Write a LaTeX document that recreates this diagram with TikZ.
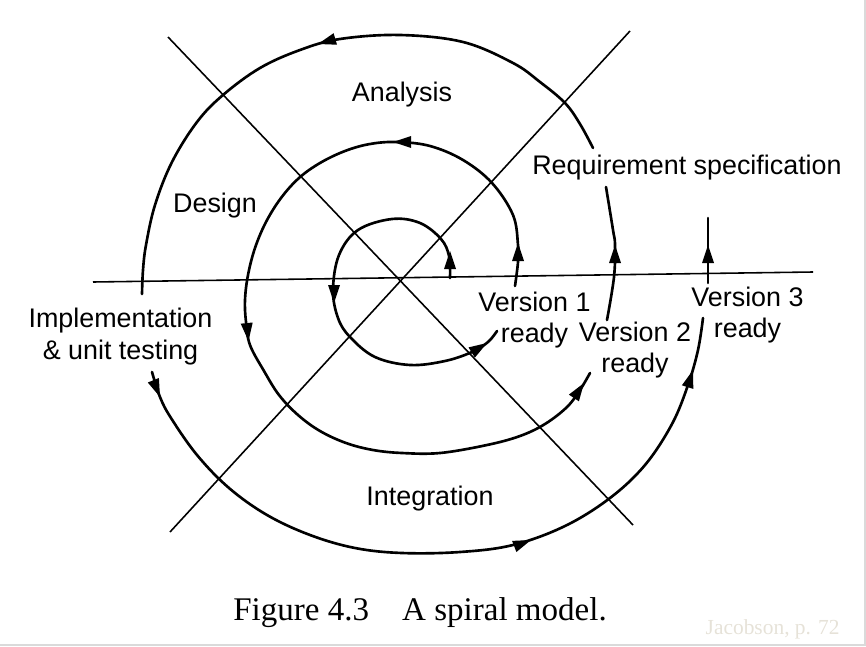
\documentclass[tikz,border=0pt]{standalone}
\usepackage{fontspec}
\setmainfont{Liberation Serif}
\setsansfont{Liberation Sans}
\usepackage{tikz}
\definecolor{stampgray}{RGB}{230,226,216}
\definecolor{framegray}{RGB}{218,218,218}

\begin{document}
\begin{tikzpicture}[scale=0.2]
\tikzstyle{every node}+=[inner sep=0pt]
\tikzstyle{phase}=[font=\sffamily\fontsize{15.3}{18}\selectfont, align=center]
\tikzstyle{spiral}=[black, line width=1.5pt, line cap=round]
\tikzstyle{splitline}=[black, line width=0.9pt]
\useasboundingbox (0,0) rectangle (86.6,-64.6);
\draw [framegray, line width=0.6pt] (86.5,0) -- (86.5,-64.5) -- (0,-64.5);
\draw [splitline] (9.3,-28.2) -- (81.3,-27.2);
\draw [splitline] (16.8,-3.7) -- (63.3,-52.5);
\draw [splitline] (63.0,-3.1) -- (17.0,-53.2);
\draw [spiral] plot [smooth, tension=0.6] coordinates {(45.0,-27.8) (44.9,-25.6) (44.1,-23.9) (42.0,-22.3) (39.2,-21.9) (35.8,-23.0) (33.9,-25.5) (33.3,-29.0) (33.8,-31.8) (35.0,-33.7) (37.5,-35.7) (41.0,-36.5) (44.5,-36.1) (47.2,-35.2) (48.8,-34.2) (49.7,-33.1)};
\fill [black] (45.0,-25.1) -- (44.4,-26.9) -- (45.6,-26.9);
\fill [black] (33.4,-30.3) -- (32.8,-28.5) -- (34.0,-28.5);
\fill [black] (48.7,-34.3) -- (46.85,-34.74) -- (47.49,-35.76);
\draw [spiral] plot [smooth, tension=0.6] coordinates {(51.5,-28.6) (51.8,-26.2) (51.8,-24.5) (51.3,-21.5) (49.2,-18.3) (46.3,-16.0) (43.0,-14.6) (39.7,-14.2) (37.0,-14.4) (34.5,-15.1) (32.0,-16.3) (29.9,-17.8) (28.1,-19.8) (26.6,-22.2) (25.5,-24.8) (24.8,-27.5) (24.5,-30.0) (24.6,-32.2) (25.0,-34.5) (26.4,-37.1) (27.9,-39.5) (29.8,-41.5) (32.0,-43.1) (34.6,-44.3) (37.3,-45.0) (40.2,-45.3) (44.0,-45.3) (48.7,-44.5) (52.0,-43.6) (54.5,-42.4) (56.7,-40.7) (58.0,-39.0) (59.0,-37.3)};
\fill [black] (51.8,-24.3) -- (51.2,-26.1) -- (52.4,-26.1);
\fill [black] (39.3,-14.2) -- (41.1,-14.8) -- (41.1,-13.6);
\fill [black] (24.85,-34.1) -- (25.27,-32.25) -- (24.07,-32.37);
\fill [black] (58.4,-38.3) -- (56.89,-39.46) -- (57.89,-40.13);
\draw [spiral] plot [smooth, tension=0.6] coordinates {(60.7,-32.0) (61.4,-27.7) (61.5,-24.5) (61.3,-23.0) (60.6,-18.7)};
\fill [black] (61.5,-24.5) -- (60.9,-26.3) -- (62.1,-26.3);
\draw [spiral] plot [smooth, tension=0.6] coordinates {(59.3,-14.8) (58.0,-12.4) (56.5,-10.3) (54.0,-8.2) (51.3,-6.3) (46.3,-4.2) (40.0,-3.5) (34.0,-3.9) (30.0,-5.0) (26.0,-6.8) (22.3,-9.5) (19.7,-12.2) (17.2,-16.2) (15.5,-20.5) (14.6,-24.5) (14.3,-27.0) (14.2,-29.4)};
\fill [black] (31.8,-4.4) -- (33.70,-4.47) -- (33.36,-3.32);
\draw [spiral] plot [smooth, tension=0.6] coordinates {(15.2,-37.2) (16.0,-39.7) (17.1,-41.8) (19.7,-45.5) (22.9,-48.8) (26.7,-51.5) (31.0,-53.5) (35.5,-54.8) (40.2,-55.3) (46.0,-55.2) (51.3,-54.5) (56.5,-52.6) (61.0,-49.8) (64.5,-46.5) (67.2,-42.4) (68.8,-38.5) (69.8,-35.0) (70.3,-31.8)};
\fill [black] (16.0,-39.7) -- (15.89,-37.80) -- (14.78,-38.25);
\fill [black] (53.1,-54.0) -- (51.21,-54.09) -- (51.64,-55.20);
\fill [black] (69.3,-37.0) -- (68.19,-38.53) -- (69.33,-38.89);
\draw [spiral] (70.8,-28.3) -- (70.8,-21.8);
\fill [black] (70.8,-24.5) -- (70.2,-26.3) -- (71.4,-26.3);
\draw (40.2,-9.5) node [phase] (analysis) {Analysis};
\draw (68.7,-16.75) node [phase] (reqspec) {Requirement specification};
\draw (21.5,-20.6) node [phase] (design) {Design};
\draw (12.05,-33.65) node [phase] (implement) {Implementation\\\& unit testing};
\draw (43.0,-49.9) node [phase] (integrate) {Integration};
\draw (53.45,-32.0) node [phase] (version1) {Version 1\\ready};
\draw (63.5,-35.0) node [phase] (version2) {Version 2\\ready};
\draw (74.75,-31.5) node [phase] (version3) {Version 3\\ready};
\draw (23.3,-61.3) node [anchor=west, font=\fontsize{18.8}{22}\selectfont] (caption) {Figure 4.3\quad A spiral model.};
\draw (84.0,-62.9) node [anchor=east, text=stampgray, font=\fontsize{12.2}{14}\selectfont] (source) {Jacobson, p. 72};
\end{tikzpicture}
\end{document}
